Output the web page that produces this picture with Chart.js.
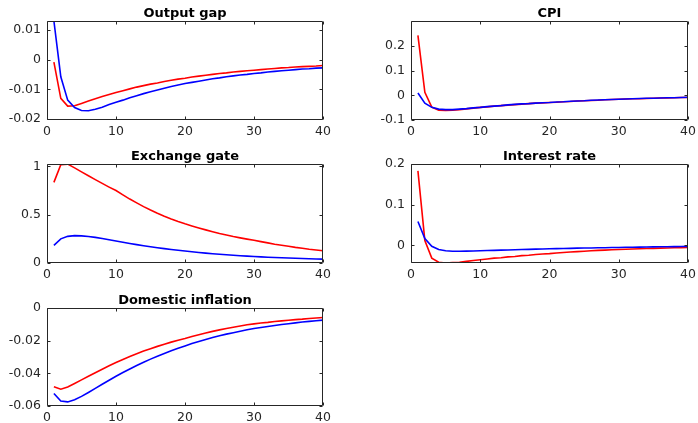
<!DOCTYPE html>
<html>
<head>
<meta charset="utf-8">
<title>Impulse responses</title>
<script src="https://cdn.jsdelivr.net/npm/chart.js@4.4.1/dist/chart.umd.min.js"></script>
<style>
  body { margin: 0; background: #fff; }
  #figure { position: relative; width: 698px; height: 423px; background: #fff; overflow: hidden; }
  #figure canvas { position: absolute; }
</style>
</head>
<body>
<div id="figure"></div>
<script>
// horizon (quarters) and tick labels
const periods = [1, 2, 3, 4, 5, 6, 7, 8, 9, 10, 11, 12, 13, 14, 15, 16, 17, 18, 19, 20,
  21, 22, 23, 24, 25, 26, 27, 28, 29, 30, 31, 32, 33, 34, 35, 36, 37, 38, 39, 40];
const xTicks = [0, 10, 20, 30, 40];

const titles = ['Output gap', 'CPI', 'Exchange gate', 'Interest rate', 'Domestic inflation'];

const outputGapTicks = [-0.02, -0.01, 0, 0.01];
const cpiTicks = [-0.1, 0, 0.1, 0.2];
const exchangeTicks = [0, 0.5, 1];
const interestTicks = [0, 0.1, 0.2];
const domesticTicks = [-0.06, -0.04, -0.02, 0];

// red / blue responses
const outputGapRed = [-0.0008, -0.0130, -0.0156, -0.0155, -0.0147, -0.0139, -0.0131, -0.0124, -0.0117, -0.0110,
  -0.0104, -0.0098, -0.0092, -0.0087, -0.0082, -0.0078, -0.0073, -0.0069, -0.0065, -0.0062,
  -0.0058, -0.0055, -0.0052, -0.0049, -0.0046, -0.0044, -0.0041, -0.0039, -0.0037, -0.0035,
  -0.0033, -0.0031, -0.0029, -0.0027, -0.0026, -0.0024, -0.0023, -0.0022, -0.0021, -0.0019];
const outputGapBlue = [0.0131, -0.0057, -0.0136, -0.0161, -0.0171, -0.0172, -0.0167, -0.0160, -0.0151, -0.0143,
  -0.0136, -0.0128, -0.0121, -0.0114, -0.0108, -0.0102, -0.0096, -0.0090, -0.0085, -0.0080,
  -0.0076, -0.0072, -0.0068, -0.0064, -0.0061, -0.0057, -0.0054, -0.0051, -0.0049, -0.0046,
  -0.0044, -0.0041, -0.0039, -0.0037, -0.0035, -0.0033, -0.0031, -0.0030, -0.0028, -0.0027];

const cpiRed = [0.242, 0.012, -0.048, -0.060, -0.061, -0.060, -0.058, -0.055, -0.052, -0.049,
  -0.047, -0.044, -0.042, -0.040, -0.038, -0.036, -0.034, -0.032, -0.031, -0.029,
  -0.028, -0.026, -0.025, -0.023, -0.022, -0.021, -0.020, -0.018, -0.017, -0.016,
  -0.015, -0.014, -0.014, -0.013, -0.012, -0.011, -0.011, -0.010, -0.009, -0.009];
const cpiBlue = [0.009, -0.032, -0.049, -0.056, -0.058, -0.058, -0.056, -0.054, -0.051, -0.049,
  -0.046, -0.044, -0.042, -0.039, -0.037, -0.035, -0.034, -0.032, -0.030, -0.029,
  -0.027, -0.026, -0.024, -0.023, -0.022, -0.020, -0.019, -0.018, -0.017, -0.016,
  -0.015, -0.014, -0.013, -0.012, -0.012, -0.011, -0.010, -0.010, -0.009, -0.008];

const exchangeRed = [0.835, 1.018, 1.024, 0.985, 0.944, 0.903, 0.863, 0.824, 0.786, 0.750,
  0.705, 0.662, 0.622, 0.584, 0.549, 0.516, 0.485, 0.456, 0.430, 0.406,
  0.384, 0.363, 0.343, 0.324, 0.306, 0.290, 0.274, 0.260, 0.247, 0.235,
  0.221, 0.208, 0.195, 0.184, 0.173, 0.162, 0.153, 0.143, 0.135, 0.127];
const exchangeBlue = [0.183, 0.250, 0.276, 0.283, 0.281, 0.275, 0.265, 0.253, 0.240, 0.227,
  0.214, 0.202, 0.190, 0.179, 0.168, 0.158, 0.149, 0.140, 0.132, 0.124,
  0.116, 0.109, 0.102, 0.096, 0.090, 0.085, 0.080, 0.075, 0.071, 0.067,
  0.063, 0.060, 0.057, 0.054, 0.051, 0.049, 0.046, 0.044, 0.042, 0.040];

const interestRed = [0.183, 0.012, -0.031, -0.041, -0.043, -0.042, -0.041, -0.039, -0.037, -0.035,
  -0.033, -0.031, -0.030, -0.028, -0.027, -0.025, -0.024, -0.022, -0.021, -0.020,
  -0.0186, -0.0173, -0.0161, -0.0150, -0.0140, -0.0130, -0.0121, -0.0113, -0.0105, -0.0098,
  -0.0092, -0.0086, -0.0080, -0.0075, -0.0070, -0.0065, -0.0061, -0.0057, -0.0053, -0.0050];
const interestBlue = [0.059, 0.017, -0.002, -0.010, -0.013, -0.014, -0.014, -0.0138, -0.0134, -0.0130,
  -0.0125, -0.0120, -0.0115, -0.0110, -0.0105, -0.0100, -0.0095, -0.0090, -0.0085, -0.0080,
  -0.0077, -0.0073, -0.0070, -0.0066, -0.0063, -0.0060, -0.0057, -0.0054, -0.0051, -0.0048,
  -0.0045, -0.0042, -0.0040, -0.0037, -0.0035, -0.0032, -0.0030, -0.0027, -0.0025, -0.0023];

const domesticRed = [-0.0482, -0.0497, -0.0483, -0.0462, -0.0440, -0.0418, -0.0396, -0.0375, -0.0354, -0.0334,
  -0.0315, -0.0297, -0.0280, -0.0264, -0.0249, -0.0235, -0.0222, -0.0209, -0.0197, -0.0187,
  -0.0175, -0.0164, -0.0153, -0.0143, -0.0134, -0.0126, -0.0118, -0.0110, -0.0103, -0.0097,
  -0.0092, -0.0088, -0.0083, -0.0079, -0.0075, -0.0071, -0.0068, -0.0064, -0.0061, -0.0058];
const domesticBlue = [-0.0523, -0.0569, -0.0575, -0.0562, -0.0541, -0.0517, -0.0492, -0.0467, -0.0442, -0.0418,
  -0.0395, -0.0373, -0.0352, -0.0332, -0.0313, -0.0295, -0.0278, -0.0262, -0.0247, -0.0232,
  -0.0218, -0.0205, -0.0193, -0.0181, -0.0170, -0.0160, -0.0151, -0.0142, -0.0133, -0.0125,
  -0.0119, -0.0113, -0.0107, -0.0101, -0.0096, -0.0091, -0.0086, -0.0082, -0.0078, -0.0074];

const panels = [
  { title: titles[0], red: outputGapRed, blue: outputGapBlue, yMin: -0.0203, yMax: 0.0131, yTicks: outputGapTicks },
  { title: titles[1], red: cpiRed, blue: cpiBlue, yMin: -0.1, yMax: 0.3, yTicks: cpiTicks },
  { title: titles[2], red: exchangeRed, blue: exchangeBlue, yMin: 0, yMax: 1.025, yTicks: exchangeTicks },
  { title: titles[3], red: interestRed, blue: interestBlue, yMin: -0.043, yMax: 0.2, yTicks: interestTicks },
  { title: titles[4], red: domesticRed, blue: domesticBlue, yMin: -0.06, yMax: 0, yTicks: domesticTicks }
];

// subplot boxes: left, top, width, height of the axes area
const boxes = [[47, 21, 276, 99], [411, 21, 277, 99], [47, 164, 276, 99], [411, 164, 277, 99], [47, 308, 276, 98]];
const AXIS_W = 50, PAD_TOP = 24, PAD_RIGHT = 14, X_AXIS_H = 22;
const AXIS_COLOR = '#262626';
const tickFont = { family: '"DejaVu Sans", sans-serif', size: 12.5 };

// matlab-like box with inward ticks + bold title
const matlabBox = {
  id: 'matlabBox',
  afterDraw(chart, args, opts) {
    const { ctx, chartArea: a, scales } = chart;
    const L = Math.round(a.left) + 0.5, R = Math.round(a.right) - 0.5;
    const T = Math.round(a.top) + 0.5, B = Math.round(a.bottom) - 0.5;
    ctx.save();
    ctx.strokeStyle = AXIS_COLOR;
    ctx.lineWidth = 1;
    ctx.beginPath();
    ctx.rect(L, T, R - L, B - T);
    scales.x.ticks.forEach(t => {
      const px = Math.round(scales.x.getPixelForValue(t.value)) + 0.5;
      ctx.moveTo(px, B); ctx.lineTo(px, B - 3);
      ctx.moveTo(px, T); ctx.lineTo(px, T + 3);
    });
    scales.y.ticks.forEach(t => {
      const py = Math.round(scales.y.getPixelForValue(t.value)) + 0.5;
      ctx.moveTo(L, py); ctx.lineTo(L + 3, py);
      ctx.moveTo(R, py); ctx.lineTo(R - 3, py);
    });
    ctx.stroke();

    ctx.fillStyle = '#000';
    ctx.font = 'bold 13px "DejaVu Sans", sans-serif';
    ctx.textAlign = 'center';
    ctx.textBaseline = 'alphabetic';
    ctx.fillText(opts.title, (a.left + a.right) / 2, a.top - 4);
    ctx.restore();
  }
};

function toPoints(values) {
  return periods.map((x, i) => ({ x: x, y: values[i] }));
}

function drawPanel(p, box) {
  const [left, top, w, h] = box;
  const canvas = document.createElement('canvas');
  canvas.width = AXIS_W + w + PAD_RIGHT;
  canvas.height = PAD_TOP + h + X_AXIS_H;
  canvas.style.left = (left - AXIS_W) + 'px';
  canvas.style.top = (top - PAD_TOP) + 'px';
  canvas.style.width = canvas.width + 'px';
  canvas.style.height = canvas.height + 'px';
  document.getElementById('figure').appendChild(canvas);

  new Chart(canvas, {
    type: 'line',
    data: {
      datasets: [
        { data: toPoints(p.red), borderColor: '#ff0000', order: 2 },
        { data: toPoints(p.blue), borderColor: '#0000ff', order: 1 }
      ]
    },
    options: {
      responsive: false,
      animation: false,
      events: [],
      devicePixelRatio: 1,
      layout: { padding: { left: 0, top: PAD_TOP, right: PAD_RIGHT, bottom: 0 } },
      elements: {
        point: { radius: 0 },
        line: { borderWidth: 1.6, tension: 0, fill: false }
      },
      datasets: { line: { clip: 0 } },
      plugins: {
        legend: { display: false },
        tooltip: { enabled: false },
        matlabBox: { title: p.title }
      },
      scales: {
        x: {
          type: 'linear', min: 0, max: 40,
          afterBuildTicks: s => { s.ticks = xTicks.map(v => ({ value: v })); },
          afterFit: s => { s.height = X_AXIS_H; },
          grid: { display: false, drawTicks: false },
          border: { display: false },
          ticks: { color: AXIS_COLOR, font: tickFont, padding: 4, maxRotation: 0, autoSkip: false, callback: v => String(v) }
        },
        y: {
          type: 'linear', min: p.yMin, max: p.yMax,
          afterBuildTicks: s => { s.ticks = p.yTicks.map(v => ({ value: v })); },
          afterFit: s => { s.width = AXIS_W; },
          grid: { display: false, drawTicks: false },
          border: { display: false },
          ticks: { color: AXIS_COLOR, font: tickFont, padding: 6, autoSkip: false, callback: v => String(v) }
        }
      }
    },
    plugins: [matlabBox]
  });
}

panels.forEach((p, i) => drawPanel(p, boxes[i]));
</script>
</body>
</html>
